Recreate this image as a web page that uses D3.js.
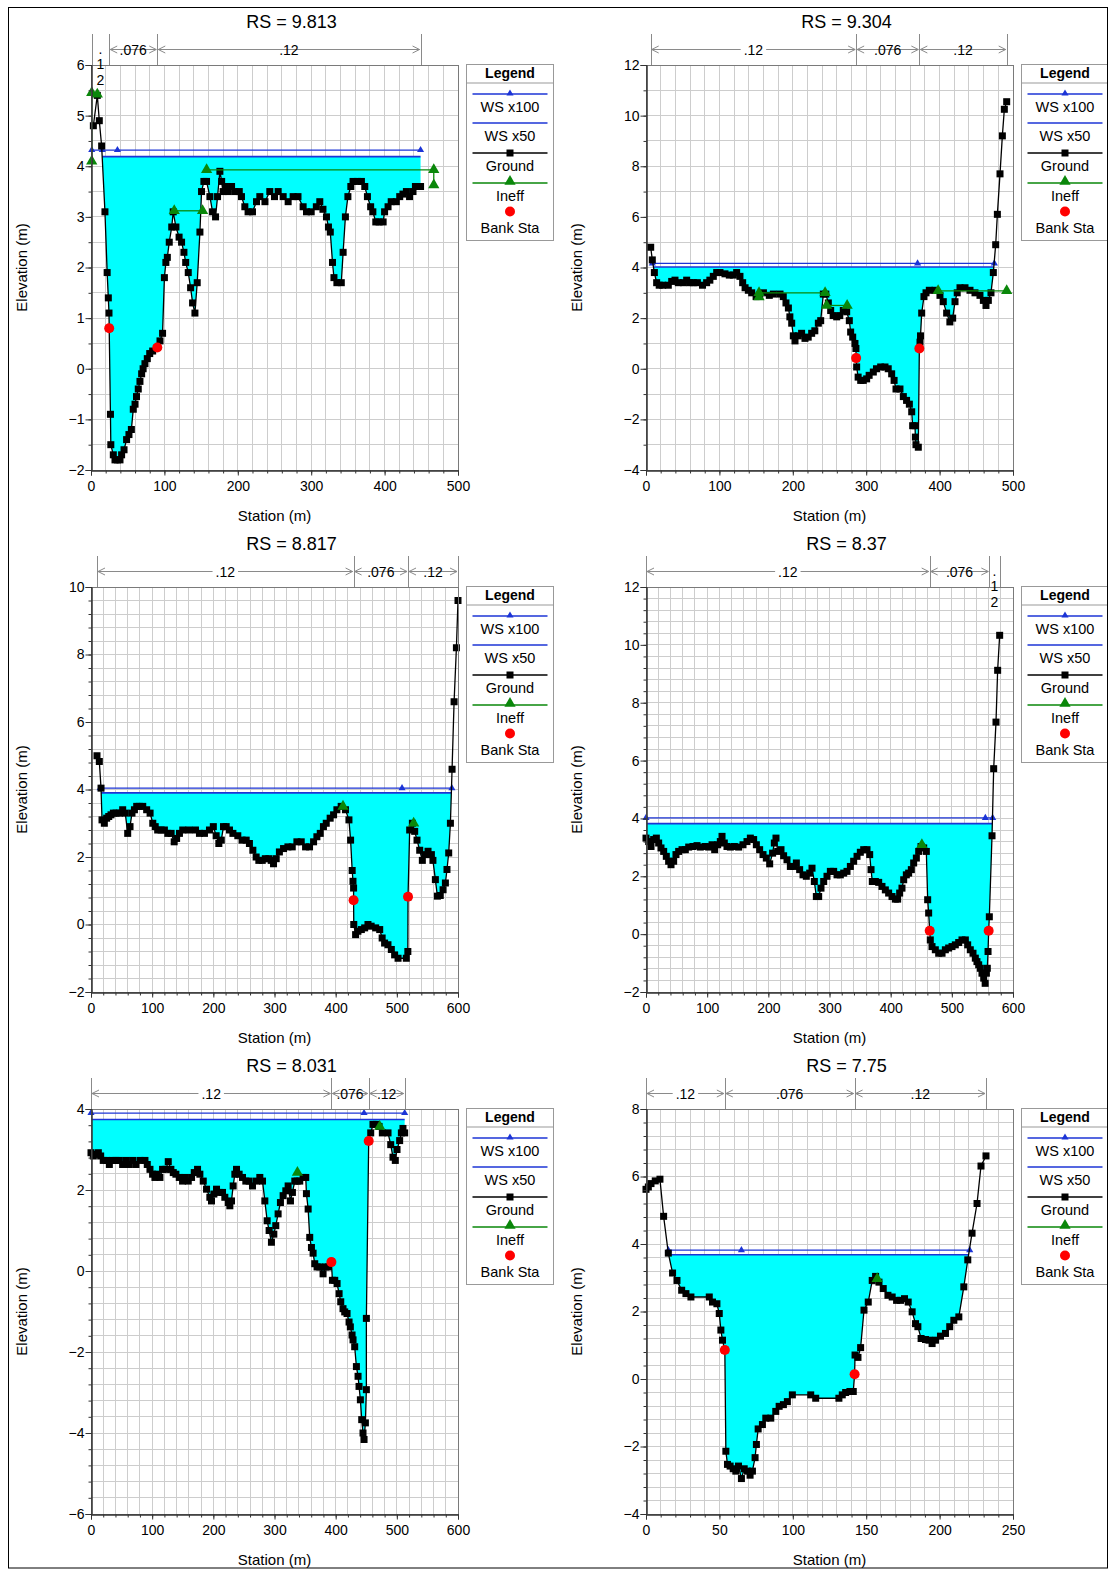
<!DOCTYPE html>
<html lang="en">
<head>
<meta charset="utf-8">
<title>Cross sections</title>
<script src="https://cdn.jsdelivr.net/npm/d3@7/dist/d3.min.js"></script>
<style>
  html, body { margin: 0; padding: 0; background: #fff; }
  svg { display: block; }
  text { font-family: "Liberation Sans", Arial, Helvetica, sans-serif; }
</style>
</head>
<body>
<svg id="chart" width="1108" height="1569"></svg>
<script>
// ---------------- River stations ----------------
const titles = ["RS = 9.813", "RS = 9.304", "RS = 8.817", "RS = 8.37", "RS = 8.031", "RS = 7.75"];

// ---------------- Ground profiles: [station (m), elevation (m)] ----------------
const ground9813 = [[3.2,4.8],[8.6,5.4],[11.3,4.9],[14.5,4.4],[19,3.1],[22,1.9],[23.6,1.4],[24.5,1.1],[24.8,0.8],[26.5,-0.9],[27,-1.5],[30.4,-1.7],[32.7,-1.8],[36,-1.8],[39.5,-1.8],[41.7,-1.7],[45,-1.6],[48.5,-1.4],[51.7,-1.3],[55,-1.2],[57.6,-0.8],[60,-0.7],[62,-0.55],[64.4,-0.4],[66.7,-0.25],[69,-0.1],[71,0],[73.5,0.1],[76.7,0.2],[80,0.3],[84,0.35],[90.3,0.42],[94,0.55],[97.5,0.7],[100,1.8],[102,2.1],[104,2.2],[106.6,2.5],[110,2.8],[112,3.1],[115.7,2.8],[120,2.6],[123.4,2.5],[126.6,2.3],[129,2.1],[132.5,1.9],[135.7,1.6],[138.4,1.3],[141.6,1.1],[144.7,1.7],[148.4,2.7],[150.6,3.5],[153.8,3.7],[157.4,3.7],[162,3.4],[165.6,3.1],[169.7,3.0],[172.4,3.4],[175.6,3.9],[178,3.7],[180,3.5],[183,3.6],[187,3.5],[191.5,3.6],[196,3.5],[202,3.5],[205,3.4],[209.6,3.2],[214,3.1],[220,3.1],[225.5,3.3],[230,3.4],[237,3.3],[243.6,3.5],[250,3.4],[255,3.5],[261.8,3.4],[268.6,3.3],[275.4,3.4],[282,3.4],[289,3.2],[293.6,3.1],[300,3.1],[307,3.2],[311.7,3.3],[316,3.15],[320.8,3.0],[323.5,2.8],[326,2.7],[329,2.1],[331,1.8],[335,1.7],[341,1.7],[343.5,2.3],[346.6,3.0],[350,3.4],[354,3.6],[357,3.7],[363,3.7],[368.4,3.7],[373,3.6],[376.6,3.4],[381,3.2],[384,3.1],[388,2.9],[392.5,2.9],[398,2.9],[400,3.1],[404.7,3.2],[409,3.3],[416,3.3],[420.6,3.4],[425,3.45],[429.7,3.5],[434,3.4],[438.7,3.5],[442,3.6],[445.5,3.6],[449,3.6]];

const ground9304 = [[6.4,4.8],[8.6,4.3],[11.4,3.8],[14.5,3.4],[18,3.3],[22.7,3.3],[30.4,3.3],[35,3.45],[39.5,3.5],[44,3.4],[51,3.4],[55.4,3.5],[60,3.4],[64.5,3.4],[70,3.4],[77,3.3],[82.6,3.4],[87,3.5],[91.7,3.65],[96.3,3.8],[100.8,3.8],[107.6,3.75],[113.5,3.7],[119,3.7],[123.5,3.8],[128,3.65],[131.7,3.4],[135,3.2],[139.4,3.1],[144,3.0],[150,2.85],[154.4,2.9],[160,3.0],[168,2.9],[173.5,2.95],[182.6,2.95],[187,2.85],[190.7,2.6],[194,2.4],[196,2.05],[198.5,1.8],[200.7,1.3],[203,1.1],[207.5,1.3],[212,1.4],[216.6,1.2],[221,1.25],[225.7,1.4],[230,1.5],[234.8,1.8],[238,1.9],[241.6,2.95],[245,2.95],[248.4,2.6],[251.6,2.3],[255,2.1],[259.8,2.05],[264,2.1],[268.8,2.3],[273.4,2.25],[277,1.9],[278.8,1.45],[281.6,1.25],[284.7,1.0],[286,0.8],[286.3,0.42],[287,0.07],[289,-0.33],[292.5,-0.46],[296,-0.46],[300.6,-0.4],[304,-0.26],[309.7,-0.13],[314,0],[319.7,0.07],[325.6,0.07],[330,0],[334.7,-0.2],[338,-0.46],[340.6,-0.8],[346,-0.8],[350.6,-1.1],[355,-1.25],[358.8,-1.4],[362,-1.7],[363.3,-2.25],[366.5,-2.25],[367,-2.7],[367.8,-3.0],[371,-3.1],[372.4,0.8],[373.3,1.05],[374,1.3],[375.6,2.2],[378.7,2.85],[381.5,3.0],[386,3.1],[393.7,3.1],[400.5,2.9],[405,2.65],[409.6,2.2],[414,1.85],[417.8,2.0],[421,2.65],[424,3.0],[427.8,3.2],[434.6,3.2],[441.4,3.1],[448.2,3.0],[455,2.9],[459.6,2.7],[463.2,2.5],[466.4,2.7],[470,3.0],[473.2,3.8],[476.4,4.9],[478.7,6.1],[482.3,7.7],[485.5,9.2],[488.2,10.25],[491.4,10.55]];

const ground8817 = [[9.8,5.0],[13.6,4.83],[16.4,4.04],[18,3.1],[21.8,3.0],[25.6,3.15],[29,3.2],[32.7,3.25],[36.6,3.3],[41,3.3],[46.4,3.3],[51.8,3.4],[56,3.3],[60,2.7],[63.8,2.9],[67,3.3],[71,3.4],[74.7,3.5],[79,3.5],[84.6,3.5],[91,3.4],[96.6,3.3],[101,3.0],[105,2.9],[109,2.8],[114.6,2.8],[120,2.8],[125.5,2.7],[131,2.7],[136,2.45],[140,2.55],[144.6,2.7],[150,2.8],[160,2.8],[170.8,2.8],[177.3,2.7],[185.5,2.7],[193.7,2.8],[200,2.9],[204.6,2.63],[209,2.4],[213,2.5],[216.6,2.9],[221,2.9],[226.4,2.8],[232,2.7],[240,2.63],[247,2.5],[253.7,2.5],[259,2.4],[264.6,2.2],[270,2.0],[274.4,1.9],[280,1.9],[285,1.95],[290.8,1.95],[294.6,1.9],[298.4,1.8],[302.8,1.95],[308,2.15],[314.8,2.25],[321.9,2.3],[329,2.3],[336.6,2.45],[343.7,2.45],[350.8,2.3],[357.3,2.3],[363.9,2.45],[369.3,2.6],[374.8,2.7],[380,2.9],[384.6,3.0],[391,3.15],[396.6,3.25],[402,3.4],[409,3.5],[416,3.4],[421.7,3.1],[424.4,2.5],[427,1.6],[428.3,1.28],[429.3,1.08],[429.3,0.72],[429.6,0.0],[432.6,-0.3],[436.4,-0.2],[442,-0.15],[447.4,-0.1],[452.8,0.0],[458,-0.05],[465.4,-0.1],[472,-0.15],[476,-0.4],[480,-0.55],[485.5,-0.6],[491,-0.74],[496.4,-0.9],[502,-1.0],[515.5,-1.0],[518,-0.8],[518.3,0.82],[521,2.8],[525.4,3.0],[529.2,2.76],[533,2.5],[537.4,2.2],[541.7,1.9],[545.5,2.07],[551,2.17],[556.5,2.07],[559,1.9],[563,1.33],[566.3,0.84],[571,0.86],[575.6,1.03],[579.4,1.23],[582,1.63],[584.8,2.12],[587.6,3.0],[590.3,4.6],[593.6,6.6],[597.4,8.2],[600,9.6]];

const ground837 = [[0,3.32],[4.4,3.2],[8.2,3.03],[12.5,3.27],[16.9,3.32],[20.7,3.15],[24.5,2.98],[28.9,2.86],[33.2,2.69],[37,2.52],[40.9,2.4],[45.2,2.52],[49,2.75],[53.4,2.86],[58.9,2.92],[64.3,2.92],[69.8,3.01],[76.8,3.03],[83.4,3.06],[88.8,3.01],[97,3.03],[102.5,3.01],[108,3.09],[112.3,2.92],[117.2,3.09],[121.5,3.2],[124.3,3.38],[128,3.15],[132.4,3.03],[137.9,3.01],[144.4,3.03],[151.5,3.01],[158.6,3.09],[165.1,3.2],[170.6,3.32],[176,3.27],[180.4,3.09],[185.8,2.92],[191.3,2.75],[196.7,2.63],[202.2,2.43],[207,2.8],[209.8,3.15],[212.5,3.32],[215.3,2.86],[220.7,2.92],[225,2.71],[230.5,2.57],[236,2.34],[241.4,2.34],[245.8,2.46],[251.2,2.23],[256.7,2.05],[262.1,2.0],[267.6,2.11],[271.4,2.28],[275.2,1.82],[278.5,1.3],[282.3,1.3],[286.1,1.59],[290.5,1.82],[295.9,2.0],[301.4,2.17],[306.8,2.17],[312.3,2.05],[317.7,2.05],[323.2,2.11],[328.6,2.17],[334.1,2.34],[339.5,2.52],[345,2.69],[350.4,2.83],[355.9,2.92],[361.3,2.92],[365.7,2.75],[367.9,2.23],[370,1.82],[375,1.82],[380.4,1.79],[385.8,1.65],[391.3,1.53],[396.7,1.42],[402.2,1.3],[407.6,1.21],[411.4,1.21],[414.7,1.42],[418.5,1.59],[421.3,1.88],[425.6,2.05],[429.4,2.11],[433.8,2.23],[437.6,2.46],[442,2.63],[445.8,2.86],[449.6,3.03],[454,2.98],[458.3,2.86],[460.5,1.19],[462.1,0.73],[463.8,0.12],[464.8,-0.2],[467.6,-0.43],[473,-0.54],[478.5,-0.66],[484,-0.66],[489.4,-0.54],[494.8,-0.48],[500.3,-0.43],[505.7,-0.37],[511.2,-0.29],[516.6,-0.2],[522.1,-0.2],[525.9,-0.37],[530.2,-0.54],[534.6,-0.66],[538.4,-0.83],[541.1,-0.95],[543.9,-1.06],[546.6,-1.18],[549.3,-1.35],[552.1,-1.52],[554.5,-1.7],[556.5,-1.35],[558,-1.18],[559.2,-0.6],[560.2,0.12],[561.3,0.6],[565.7,3.4],[568.4,5.72],[572.2,7.33],[574.9,9.12],[578.2,10.33]];

const ground8031 = [[0,2.92],[3.8,2.84],[8.2,2.88],[12,2.92],[15.8,2.84],[20,2.73],[25.6,2.73],[30,2.63],[35.4,2.73],[40.8,2.73],[46.3,2.73],[51.7,2.63],[57.2,2.73],[62.6,2.63],[68,2.73],[73.5,2.63],[80,2.73],[88.2,2.73],[92,2.63],[96.4,2.51],[100.7,2.39],[104.5,2.31],[108.3,2.39],[112.7,2.31],[117,2.51],[122.5,2.51],[126.3,2.7],[130.6,2.51],[134.5,2.43],[138.8,2.39],[144.3,2.31],[149.7,2.22],[153.5,2.31],[159,2.22],[164.4,2.31],[168.8,2.43],[174.2,2.51],[178,2.39],[183.5,2.22],[188.9,2.02],[194.3,1.82],[197,1.73],[200.9,1.9],[205.2,2.02],[209.6,1.94],[215,1.94],[218.8,1.82],[224.3,1.69],[227,1.61],[229.7,1.73],[232.4,2.1],[235.2,2.39],[237.9,2.51],[242.2,2.39],[247.7,2.31],[253.1,2.22],[258.6,2.22],[264,2.1],[270.5,2.22],[276,2.31],[280.4,2.22],[284.2,1.73],[288,1.24],[291.2,1.0],[295,0.71],[298.9,0.91],[302.1,1.12],[305.9,1.41],[309.7,1.69],[314.1,1.86],[318.5,1.98],[322.3,2.1],[326.1,1.73],[329.3,1.94],[333.2,2.22],[337,2.22],[341.3,2.22],[346.8,2.31],[351.1,2.31],[352.2,1.91],[355,1.53],[357.6,0.83],[360.4,0.58],[363.1,0.44],[365.8,0.18],[369.6,0.1],[374,0.1],[379.4,-0.07],[383.8,0.1],[388,0.1],[393,0.22],[394.7,-0.23],[398.5,-0.23],[402.3,-0.31],[405.6,-0.56],[408.3,-0.76],[412,-0.93],[414.8,-1.01],[418.6,-1.05],[421.9,-1.26],[424,-1.38],[426.8,-1.58],[428.4,-1.7],[431.1,-1.87],[433.9,-2.36],[436.6,-2.6],[438.2,-2.85],[440.4,-3.18],[442.6,-3.67],[444.7,-4.0],[446.4,-4.16],[448.6,-3.75],[450.2,-2.93],[450.2,-1.17],[454,3.21],[457.3,3.41],[461,3.62],[466.5,3.62],[470.9,3.57],[476.3,3.41],[485.6,3.41],[490,3.12],[493.7,2.81],[497.5,2.73],[500.3,3.0],[504.6,3.22],[507.4,3.41],[510,3.52],[512.8,3.41]];

const ground775 = [[0,5.62],[1.6,5.69],[3.4,5.79],[6.3,5.87],[9.5,5.92],[12,4.82],[15.2,3.73],[18.1,3.14],[21.1,2.92],[24.3,2.63],[27.2,2.53],[30.6,2.43],[43.1,2.43],[45.3,2.28],[48.3,2.23],[49.9,1.94],[51,1.45],[52.1,1.15],[53.7,0.86],[54.4,-2.14],[55.5,-2.53],[57.3,-2.58],[59.4,-2.66],[61.2,-2.73],[63,-2.58],[65,-2.95],[66.9,-2.66],[69.1,-2.73],[70.9,-2.85],[72.5,-2.73],[74.3,-2.33],[75.2,-1.94],[76.4,-1.48],[79.3,-1.35],[81.6,-1.16],[85,-1.16],[88.4,-0.96],[90.7,-0.81],[93.6,-0.76],[96.3,-0.67],[99.7,-0.47],[112.2,-0.47],[115.6,-0.57],[131.4,-0.57],[133.7,-0.47],[136,-0.4],[138.9,-0.37],[141.2,-0.37],[142.1,0.14],[142.4,0.71],[144.4,0.64],[146.2,0.93],[148.5,2.04],[151.4,2.28],[154.1,2.92],[156.4,3.04],[158.7,2.87],[161.6,2.68],[164.8,2.48],[167.7,2.43],[170.7,2.33],[173.4,2.33],[176.1,2.38],[178.6,2.28],[181.3,1.99],[183.6,1.64],[185.2,1.55],[187.4,1.2],[190.4,1.17],[192.7,1.15],[194.9,1.05],[197.2,1.15],[200.6,1.27],[204,1.35],[206.9,1.55],[209.7,1.74],[213.1,1.84],[216.5,2.73],[219.2,3.53],[222.1,4.32],[225.5,5.2],[228.2,6.31],[231.6,6.61]];

// ---------------- Bank stations ----------------
const bank9813 = [[24.8,0.8],[90.3,0.42]];
const bank9304 = [[286.3,0.42],[372.4,0.8]];
const bank8817 = [[429.3,0.72],[518.3,0.82]];
const bank837  = [[463.8,0.12],[560.2,0.12]];
const bank8031 = [[393,0.22],[454,3.21]];
const bank775  = [[53.7,0.86],[142.1,0.14]];

// ---------------- Ineffective flow areas (polylines) ----------------
const ineff9813 = [[[1,4.1],[1,5.45],[8.6,5.42]], [[113.4,3.12],[152,3.12]], [[157.5,3.93],[467,3.93],[467,3.63]]];
const ineff9304 = [[[154,2.83],[154,3.0],[244,3.0]], [[246,2.5],[274,2.5]], [[398,3.08],[491.4,3.08]]];
const ineff8817 = [[[412,3.5]], [[527.5,3.0]]];
const ineff837  = [[[451,3.09]]];
const ineff8031 = [[[337.5,2.43]], [[472,3.57]]];
const ineff775  = [[[157.5,2.97]]];

// ---------------- Water surfaces ----------------
const ws100 = [4.32, 4.16, 4.04, 4.02, 3.90, 3.82];
const ws50  = [4.19, 4.02, 3.90, 3.82, 3.74, 3.68];
const ws100Sta9813 = [1, 15.4, 36, 449];
const ws100Sta9304 = [8.6, 370, 474.6];
const ws100Sta8817 = [15, 508.5, 590];
const ws100Sta837  = [0, 554.8, 566.8];
const ws100Sta8031 = [0, 446.4, 512.8];
const ws100Sta775  = [15.2, 65, 220.5];

// ---------------- Manning's n regions ----------------
const nSta9813 = [1, 24.8, 90.3, 449];
const nSta9304 = [6.4, 286.3, 372.4, 491.4];
const nSta8817 = [9.8, 429.3, 518.3, 600];
const nSta837  = [0, 463.8, 561.3, 578.2];
const nSta8031 = [0, 393, 454, 512.8];
const nSta775  = [0, 53.7, 142.1, 231.6];
const nVal9813 = [".12", ".076", ".12"];
const nVal9304 = [".12", ".076", ".12"];
const nVal8817 = [".12", ".076", ".12"];
const nVal837  = [".12", ".076", ".12"];
const nVal8031 = [".12", ".076", ".12"];
const nVal775  = [".12", ".076", ".12"];

// ---------------- Axis ticks ----------------
const xTicks500 = [0, 100, 200, 300, 400, 500];
const xTicks600 = [0, 100, 200, 300, 400, 500, 600];
const xTicks250 = [0, 50, 100, 150, 200, 250];
const yTicks9813 = [-2, -1, 0, 1, 2, 3, 4, 5, 6];
const yTicks9304 = [-4, -2, 0, 2, 4, 6, 8, 10, 12];
const yTicks8817 = [-2, 0, 2, 4, 6, 8, 10];
const yTicks837  = [-2, 0, 2, 4, 6, 8, 10, 12];
const yTicks8031 = [-6, -4, -2, 0, 2, 4];
const yTicks775  = [-4, -2, 0, 2, 4, 6, 8];

const legendLabels = ["WS x100", "WS x50", "Ground", "Ineff", "Bank Sta"];

// ---------------- Layout ----------------
const colLeft = [91, 646];
const rowTop = [65, 587, 1109];
const plotW = 367, plotH = 405;
const C = {
  ws: "#1c34d6", fill: "#00ffff", ground: "#000000", ineff: "#0a870a",
  bank: "#ff0000", grid: "#cdcdcd", dim: "#8a8a8a", frame: "#7a7a7a"
};
const MARK = 7; // ground marker side

const panels = [
  { title: titles[0], col: 0, row: 0, xTicks: xTicks500, yTicks: yTicks9813, gridX: 20, gridY: 0.5,
    ground: ground9813, bank: bank9813, ineff: ineff9813, ws100: ws100[0], ws50: ws50[0], ws100Sta: ws100Sta9813, nSta: nSta9813, nVal: nVal9813 },
  { title: titles[1], col: 1, row: 0, xTicks: xTicks500, yTicks: yTicks9304, gridX: 20, gridY: 1,
    ground: ground9304, bank: bank9304, ineff: ineff9304, ws100: ws100[1], ws50: ws50[1], ws100Sta: ws100Sta9304, nSta: nSta9304, nVal: nVal9304 },
  { title: titles[2], col: 0, row: 1, xTicks: xTicks600, yTicks: yTicks8817, gridX: 20, gridY: 0.4,
    ground: ground8817, bank: bank8817, ineff: ineff8817, ws100: ws100[2], ws50: ws50[2], ws100Sta: ws100Sta8817, nSta: nSta8817, nVal: nVal8817 },
  { title: titles[3], col: 1, row: 1, xTicks: xTicks600, yTicks: yTicks837, gridX: 20, gridY: 0.4,
    ground: ground837, bank: bank837, ineff: ineff837, ws100: ws100[3], ws50: ws50[3], ws100Sta: ws100Sta837, nSta: nSta837, nVal: nVal837 },
  { title: titles[4], col: 0, row: 2, xTicks: xTicks600, yTicks: yTicks8031, gridX: 20, gridY: 0.4,
    ground: ground8031, bank: bank8031, ineff: ineff8031, ws100: ws100[4], ws50: ws50[4], ws100Sta: ws100Sta8031, nSta: nSta8031, nVal: nVal8031 },
  { title: titles[5], col: 1, row: 2, xTicks: xTicks250, yTicks: yTicks775, gridX: 10, gridY: 0.4,
    ground: ground775, bank: bank775, ineff: ineff775, ws100: ws100[5], ws50: ws50[5], ws100Sta: ws100Sta775, nSta: nSta775, nVal: nVal775 }
];

const svg = d3.select("#chart");

// Ground clipped to a water level, with crossing points inserted
function wetProfile(ground, ws) {
  const pts = [];
  let wetStart = null, wetEnd = null;
  ground.forEach(([s, e], i) => {
    if (i > 0) {
      const [s0, e0] = ground[i - 1];
      if ((e0 - ws) * (e - ws) < 0) {
        const t = (ws - e0) / (e - e0);
        const sc = s0 + t * (s - s0);
        pts.push([sc, ws]);
        if (wetStart === null) wetStart = sc;
        wetEnd = sc;
      }
    }
    pts.push([s, Math.min(e, ws)]);
    if (e < ws) { if (wetStart === null) wetStart = s; wetEnd = s; }
  });
  return { pts, wetStart, wetEnd };
}

const steps = (lo, hi, step) => d3.range(0, Math.round((hi - lo) / step) + 1).map(i => lo + i * step);

panels.forEach(p => {
  const left = colLeft[p.col], top = rowTop[p.row];
  const right = left + plotW, bottom = top + plotH;
  const xDom = d3.extent(p.xTicks), yDom = d3.extent(p.yTicks);
  const x = d3.scaleLinear().domain(xDom).range([left, right]);
  const y = d3.scaleLinear().domain(yDom).range([bottom, top]);
  const g = svg.append("g");

  // grid
  const grid = g.append("g").attr("shape-rendering", "crispEdges").attr("stroke", C.grid);
  grid.selectAll(".gx").data(steps(xDom[0], xDom[1], p.gridX)).join("line")
    .attr("x1", d => x(d)).attr("x2", d => x(d)).attr("y1", top).attr("y2", bottom);
  grid.selectAll(".gy").data(steps(yDom[0], yDom[1], p.gridY)).join("line")
    .attr("y1", d => y(d)).attr("y2", d => y(d)).attr("x1", left).attr("x2", right);

  // water fill (WS x50)
  const wet = wetProfile(p.ground, p.ws50);
  g.append("path").datum(wet.pts)
    .attr("fill", C.fill)
    .attr("d", d3.area().x(d => x(d[0])).y0(y(p.ws50)).y1(d => y(d[1])));

  // WS x100
  g.append("line")
    .attr("x1", x(d3.min(p.ws100Sta))).attr("x2", x(d3.max(p.ws100Sta)))
    .attr("y1", y(p.ws100)).attr("y2", y(p.ws100))
    .attr("stroke", C.ws).attr("stroke-width", 1.3);
  g.selectAll(".wsm").data(p.ws100Sta).join("path")
    .attr("transform", d => `translate(${x(d)},${y(p.ws100)})`)
    .attr("d", d3.symbol(d3.symbolTriangle, 22)).attr("fill", C.ws);

  // WS x50
  g.append("line")
    .attr("x1", x(wet.wetStart)).attr("x2", x(wet.wetEnd))
    .attr("y1", y(p.ws50)).attr("y2", y(p.ws50))
    .attr("stroke", C.ws).attr("stroke-width", 1.6);

  // ground
  g.append("path").datum(p.ground)
    .attr("fill", "none").attr("stroke", C.ground).attr("stroke-width", 1.3)
    .attr("d", d3.line().x(d => x(d[0])).y(d => y(d[1])));
  g.selectAll(".gm").data(p.ground).join("rect")
    .attr("x", d => x(d[0]) - MARK / 2).attr("y", d => y(d[1]) - MARK / 2)
    .attr("width", MARK).attr("height", MARK).attr("fill", C.ground);

  // ineffective flow
  p.ineff.forEach(seg => {
    g.append("path").datum(seg)
      .attr("fill", "none").attr("stroke", C.ineff).attr("stroke-width", 1.3)
      .attr("d", d3.line().x(d => x(d[0])).y(d => y(d[1])));
    g.selectAll(null).data(seg).join("path")
      .attr("transform", d => `translate(${x(d[0])},${y(d[1])})`)
      .attr("d", d3.symbol(d3.symbolTriangle, 55)).attr("fill", C.ineff);
  });

  // bank stations
  g.selectAll(".bk").data(p.bank).join("circle")
    .attr("cx", d => x(d[0])).attr("cy", d => y(d[1])).attr("r", 5).attr("fill", C.bank);

  // frame
  g.append("rect").attr("x", left + 0.5).attr("y", top + 0.5).attr("width", plotW).attr("height", plotH)
    .attr("fill", "none").attr("stroke", C.frame).attr("shape-rendering", "crispEdges");

  // axes
  const ax = g.append("g").attr("transform", `translate(0,${bottom + 0.5})`);
  ax.call(d3.axisBottom(x).tickValues(steps(xDom[0], xDom[1], p.gridX)).tickSize(3).tickFormat(""));
  const axMaj = g.append("g").attr("transform", `translate(0,${bottom + 0.5})`)
    .call(d3.axisBottom(x).tickValues(p.xTicks).tickSize(5).tickPadding(6).tickFormat(d3.format("d")));
  const ay = g.append("g").attr("transform", `translate(${left + 0.5},0)`);
  ay.call(d3.axisLeft(y).tickValues(steps(yDom[0], yDom[1], p.gridY)).tickSize(3).tickFormat(""));
  const ayMaj = g.append("g").attr("transform", `translate(${left + 0.5},0)`)
    .call(d3.axisLeft(y).tickValues(p.yTicks).tickSize(6).tickPadding(1).tickFormat(d3.format("d")));
  [ax, axMaj, ay, ayMaj].forEach(a => {
    a.selectAll(".domain").attr("stroke", "#333");
    a.selectAll(".tick line").attr("stroke", "#333");
    a.selectAll("text").attr("font-size", 14).attr("fill", "#000")
      .attr("font-family", '"Liberation Sans", Arial, sans-serif');
  });

  // titles
  g.append("text").attr("x", (left + right) / 2 + 17).attr("y", top - 37)
    .attr("text-anchor", "middle").attr("font-size", 18).text(p.title);
  g.append("text").attr("x", (left + right) / 2).attr("y", bottom + 51)
    .attr("text-anchor", "middle").attr("font-size", 15).text("Station (m)");
  g.append("text")
    .attr("transform", `translate(${left - 64},${(top + bottom) / 2}) rotate(-90)`)
    .attr("text-anchor", "middle").attr("font-size", 15).text("Elevation (m)");

  // Manning's n regions above the plot
  const dimY = top - 15.5;
  const dim = g.append("g");
  dim.selectAll("line.ext").data(p.nSta).join("line")
    .attr("x1", d => Math.round(x(d)) + 0.5).attr("x2", d => Math.round(x(d)) + 0.5)
    .attr("y1", top - 31).attr("y2", top)
    .attr("stroke", C.dim);
  p.nVal.forEach((label, i) => {
    const x0 = x(p.nSta[i]), x1 = x(p.nSta[i + 1]);
    const mid = (x0 + x1) / 2;
    if (x1 - x0 < 22) {
      label.split("").forEach((ch, k) => {
        dim.append("text").attr("x", mid).attr("y", dimY + [4, 19.5, 35][k])
          .attr("text-anchor", "middle").attr("font-size", 14).text(ch);
      });
      return;
    }
    dim.append("line").attr("x1", x0 + 1).attr("x2", x1 - 1).attr("y1", dimY).attr("y2", dimY)
      .attr("stroke", C.dim);
    const t = dim.append("text").attr("x", mid).attr("y", dimY + 5)
      .attr("text-anchor", "middle").attr("font-size", 14).text(label);
    const tw = t.node().getComputedTextLength();
    dim.insert("rect", "text").attr("x", mid - tw / 2 - 3).attr("y", dimY - 4).attr("width", tw + 6).attr("height", 8)
      .attr("fill", "#fff");
    const arrow = (tip, dir) => `M${tip + dir * 7},${dimY - 3.5}L${tip},${dimY}L${tip + dir * 7},${dimY + 3.5}`;
    dim.append("path").attr("d", arrow(x0 + 1, 1) + arrow(x1 - 1, -1))
      .attr("fill", "none").attr("stroke", C.dim);
  });

  // legend
  const lx = right + 8.5, ly = top - 0.5, lw = 87, lh = 176;
  const lg = g.append("g");
  lg.append("rect").attr("x", lx).attr("y", ly).attr("width", lw).attr("height", lh)
    .attr("fill", "#fff").attr("stroke", "#999");
  const cx = lx + lw / 2;
  lg.append("text").attr("x", cx).attr("y", ly + 13).attr("text-anchor", "middle")
    .attr("font-size", 14).attr("font-weight", "bold").text("Legend");
  lg.append("line").attr("x1", lx).attr("x2", lx + lw).attr("y1", ly + 18.5).attr("y2", ly + 18.5).attr("stroke", "#999");
  const lineYs = [29.5, 58.5, 88.5, 118.5];
  const lineCols = [C.ws, C.ws, C.ground, C.ineff];
  lineYs.forEach((dy, i) => {
    lg.append("line").attr("x1", lx + 6).attr("x2", lx + lw - 6).attr("y1", ly + dy).attr("y2", ly + dy)
      .attr("stroke", lineCols[i]).attr("stroke-width", 1.4);
  });
  lg.append("path").attr("transform", `translate(${cx},${ly + 29})`).attr("d", d3.symbol(d3.symbolTriangle, 22)).attr("fill", C.ws);
  lg.append("rect").attr("x", cx - MARK / 2).attr("y", ly + 88.5 - MARK / 2).attr("width", MARK).attr("height", MARK).attr("fill", C.ground);
  lg.append("path").attr("transform", `translate(${cx},${ly + 117})`).attr("d", d3.symbol(d3.symbolTriangle, 55)).attr("fill", C.ineff);
  lg.append("circle").attr("cx", cx).attr("cy", ly + 147).attr("r", 5).attr("fill", C.bank);
  const textYs = [47, 76, 106, 136, 168];
  legendLabels.forEach((lab, i) => {
    lg.append("text").attr("x", cx).attr("y", ly + textYs[i]).attr("text-anchor", "middle")
      .attr("font-size", 14.5).text(lab);
  });
});

// outer frame
svg.append("rect").attr("x", 8.5).attr("y", 7.5).attr("width", 1099).attr("height", 1560.5)
  .attr("fill", "none").attr("stroke", "#000");
</script>
</body>
</html>
